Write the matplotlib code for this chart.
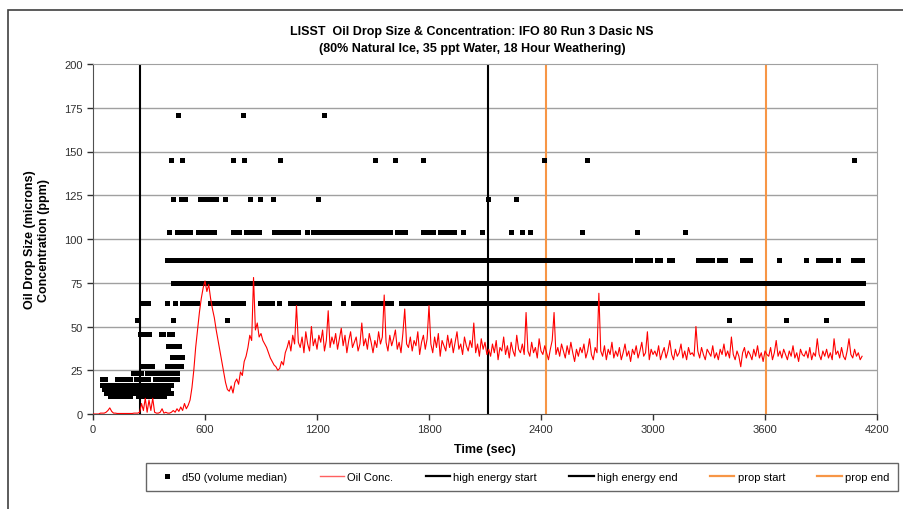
import numpy as np
import matplotlib.pyplot as plt
from matplotlib.patches import Rectangle
from matplotlib.lines import Line2D

plt.rcParams['font.family'] = ['Liberation Sans', 'DejaVu Sans']

# d50 size bins (microns) and the time runs (sec) where d50 sits in each bin
d50_levels = [10.2, 12.1, 14.3, 16.8, 19.9, 23.5, 27.7, 32.7, 38.6,
              45.5, 53.7, 63.3, 74.7, 88.2, 104, 123, 145, 171]
d50_runs = [
    [(90, 200), (240, 380)],
    [(70, 150), (170, 420)],
    [(60, 260), (280, 400)],
    [(47, 180), (200, 420)],
    [(47, 70), (130, 200), (230, 300), (330, 420), (440, 455)],
    [(214, 260), (290, 340), (360, 400), (420, 455)],
    [(268, 316), (396, 477)],
    [(421, 475)],
    [(402, 466)],
    [(252, 305), (363, 380), (409, 423)],
    [(234, 234), (430, 430), (720, 720), (3409, 3409), (3713, 3713), (3927, 3927)],
    [(270, 295), (398, 398), (439, 439), (475, 564), (627, 805), (895, 966), (998, 998),
     (1055, 1270), (1339, 1339), (1391, 1492), (1511, 1538), (1564, 1595), (1649, 1850),
     (1859, 1975), (1988, 4123)],
    [(427, 4123)],
    [(397, 430), (448, 2200), (2214, 2413), (2431, 2502), (2520, 2604), (2618, 2698),
     (2707, 2752), (2770, 2881), (2912, 2939), (2962, 2988), (3020, 3038), (3084, 3107),
     (3242, 3318), (3355, 3386), (3478, 3520), (3677, 3677), (3820, 3820), (3886, 3904),
     (3932, 3950), (3993, 3993), (4073, 4123)],
    [(407, 407), (448, 523), (564, 648), (748, 787), (818, 891), (971, 1100), (1145, 1145),
     (1181, 1466), (1484, 1565), (1591, 1591), (1630, 1677), (1770, 1827), (1859, 1909),
     (1934, 1934), (1984, 1984), (2082, 2082), (2238, 2238), (2300, 2300), (2341, 2341),
     (2621, 2621), (2912, 2912), (3171, 3171)],
    [(427, 427), (470, 470), (493, 493), (573, 636), (659, 659), (707, 707), (841, 841),
     (895, 895), (966, 966), (1207, 1207), (2118, 2118), (2264, 2264)],
    [(418, 418), (475, 475), (752, 752), (809, 809), (1002, 1002), (1511, 1511),
     (1618, 1618), (1766, 1766), (2416, 2416), (2648, 2648), (4077, 4077)],
    [(454, 454), (805, 805), (1237, 1237)],
]
d50_step = 6

# oil concentration (ppm), one reading every 10 s from 0 to 4120 s
conc_step = 10
conc_early = [0, 0, 0, 0, 0.5, 0.5, 0.5, 1, 2, 3.5,
              1.5, 0.5, 0.5, 0.3, 0.3, 0.3, 0.3, 0.3, 0.3, 0.3,
              0.3, 0.3, 0.5, 0.5, 0.5, 1, 6, 2, 9, 1,
              8, 2, 9, 1, 0.5, 0.5, 1, 3, 0.5, 1,
              0.5, 0.5, 1, 2, 1, 3, 1.5, 4, 2, 6,
              3, 5, 8, 15, 25, 38, 48, 58, 66, 72,
              76, 70, 74, 66, 60, 55, 48, 42, 36, 30,
              24, 18, 14, 13, 16, 12, 18, 20, 17, 24,
              22, 30, 33, 38, 45, 42, 78, 48, 52, 44,
              46, 42, 40, 38, 35, 32, 30, 28, 27, 25,
              26, 30, 28, 35, 38, 42, 36, 45, 40, 62, 41]
conc_high = [38, 44, 35, 47, 40, 36, 50, 39, 43, 37,
             45, 41, 48, 36, 42, 59, 38, 44, 40, 46,
             37, 43, 49, 39, 45, 35, 42, 47, 38, 41,
             44, 36, 40, 52, 39, 43, 37, 46, 41, 35,
             42, 38, 47, 40, 44, 68, 41, 36, 45, 39,
             43, 48, 37, 41, 35, 46, 60, 40, 38, 44,
             36, 42, 39, 47, 34, 41, 45, 37, 43, 62,
             40, 35, 44, 38, 46, 33, 42, 39, 36, 45,
             38, 43, 35, 41, 47, 37, 40, 34, 44, 39,
             36, 42, 38, 52, 35, 40, 33, 43, 37, 41, 34]
conc_late = [37, 33, 40, 35, 42, 31, 38, 36, 44, 34,
             39, 32, 41, 36, 33, 45, 37, 35, 40, 34,
             58, 36, 33, 41, 35, 38, 32, 43, 36, 34,
             39, 35, 31, 37, 42, 58, 34, 38, 33, 40,
             36, 32, 39, 34, 41, 35, 30, 37, 33, 38,
             35, 40, 32, 36, 43, 34, 31, 38, 35, 69,
             36, 33, 39, 31, 37, 34, 41, 32, 36, 33,
             38, 31, 35, 40, 33, 36, 30, 37, 34, 39,
             32, 36, 41, 33, 35, 47, 31, 37, 34, 36,
             33, 39, 31, 35, 38, 32, 36, 42, 34, 31,
             37, 33, 35, 40, 32, 36, 31, 38, 34, 35,
             33, 50, 36, 32, 38, 34, 31, 37, 35, 33,
             39, 32, 35, 31, 37, 34, 40, 33, 36, 32,
             44, 34, 31, 36, 33, 27, 35, 38, 32, 36,
             34, 31, 37, 33, 39, 32, 35, 30, 36, 34,
             33, 38, 31, 35, 42, 33, 36, 32, 37, 34,
             31, 36, 33, 39, 32, 35, 30, 37, 34, 33,
             36, 32, 38, 31, 35, 33, 43, 34, 31, 36,
             33, 37, 32, 35, 31, 43, 34, 36, 32, 38,
             33, 31, 36, 43, 34, 32, 37, 33, 35, 31, 33]

event_names = ['high energy start', 'high energy end', 'prop start', 'prop end']
event_times = [252, 2115, 2425, 3605]
event_colors = ['black', 'black', '#F79646', '#F79646']

# build arrays
d50_t, d50_v = [], []
for lvl, runs in zip(d50_levels, d50_runs):
    for a, b in runs:
        ts = np.arange(a, b + 1, d50_step) if b > a else np.array([a])
        d50_t.extend(ts)
        d50_v.extend([lvl] * len(ts))

conc = np.array(conc_early + conc_high + conc_late, dtype=float)
conc_t = np.arange(len(conc)) * conc_step

fig = plt.figure(figsize=(9.04, 5.10), dpi=100)
ax = fig.add_axes([93 / 904, 95 / 510, 784 / 904, 350 / 510])

# outer chart frame
fig.patches.append(Rectangle((8 / 904, -0.1), 1.2, 1 - 11 / 510 + 0.1,
                             transform=fig.transFigure, fill=False,
                             edgecolor='#404040', lw=1.2))

for y in range(25, 200, 25):
    ax.axhline(y, color='#A0A0A0', lw=1, zorder=1)

ax.plot(d50_t, d50_v, 's', color='black', ms=3.6, mew=0, zorder=3,
        label='d50 (volume median)')
ax.plot(conc_t, conc, color='#FF0000', lw=0.8, zorder=4, label='Oil Conc.')
for name, t, c in zip(event_names, event_times, event_colors):
    ax.axvline(t, color=c, lw=1.5, zorder=2, label=name)

ax.set_xlim(0, 4200)
ax.set_ylim(0, 200)
ax.set_xticks(range(0, 4201, 600))
ax.set_yticks(range(0, 201, 25))
ax.tick_params(direction='out', length=4, labelsize=8, colors='#303030', width=1)
for s in ['top', 'right']:
    ax.spines[s].set_color('#A0A0A0')
for s in ['left', 'bottom']:
    ax.spines[s].set_color('#505050')

ax.set_xlabel('Time (sec)', fontsize=9, fontweight='bold', labelpad=6)
ax.set_ylabel('Oil Drop Size (microns)\nConcentration (ppm)', fontsize=9,
              fontweight='bold', labelpad=10)

fig.text(472 / 904, 1 - 32 / 510,
         'LISST  Oil Drop Size & Concentration: IFO 80 Run 3 Dasic NS',
         ha='center', va='center', fontsize=9, fontweight='bold')
fig.text(472 / 904, 1 - 49 / 510,
         '(80% Natural Ice, 35 ppt Water, 18 Hour Weathering)',
         ha='center', va='center', fontsize=9, fontweight='bold')

handles = [Line2D([], [], ls='none', marker='s', color='black', ms=3.6, mew=0),
           Line2D([], [], color='#FF6060', lw=1)]
handles += [Line2D([], [], color=c, lw=1.6) for c in event_colors]
labels = ['d50 (volume median)', 'Oil Conc.'] + event_names
leg = fig.legend(handles, labels, loc='center left', ncol=6,
                 bbox_to_anchor=(140 / 904, 1 - 478 / 510), fontsize=8,
                 frameon=True, fancybox=False, edgecolor='#404040',
                 handlelength=2.2, handletextpad=0.3, columnspacing=2.9,
                 borderpad=0.8)
leg.get_frame().set_linewidth(1)

fig.savefig('out.png', dpi=100)
